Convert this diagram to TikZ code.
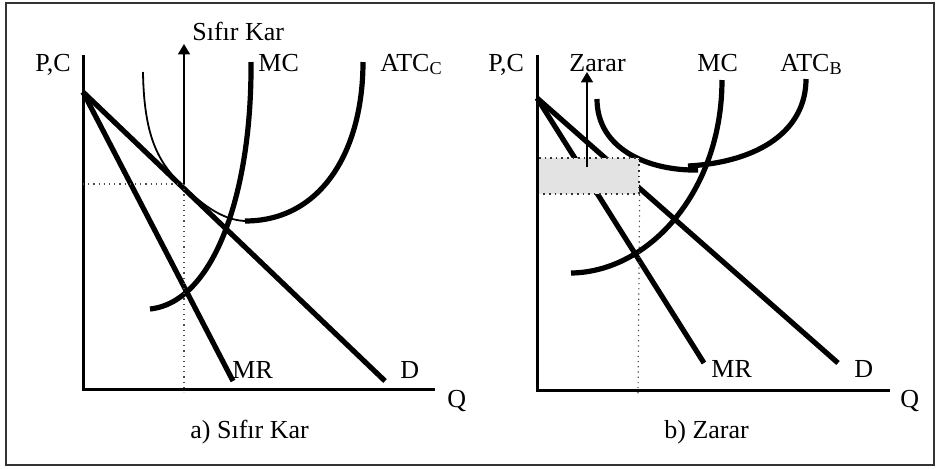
\documentclass[tikz,border=0pt]{standalone}
\usepackage{fontspec}
\setmainfont{Liberation Serif}
\usetikzlibrary{arrows.meta, positioning, calc}

\begin{document}
\begin{tikzpicture}[
    x=0.5pt, y=-0.5pt,
    >=Triangle,
    font=\fontsize{13}{15}\selectfont,
    % Define styles for the different line types
    axisline/.style={line width=1.5pt},
    curveline/.style={line width=2.6pt},
    thinline/.style={line width=0.9pt},
    guideline/.style={dotted, line width=0.6pt, black!70},
    lbl/.style={anchor=base west, inner sep=0pt},
    lossbox/.style={rectangle, fill=black!11, draw=black!80, dotted, line width=0.8pt, inner sep=0pt, minimum width=50.5pt, minimum height=18pt},
]

% -------------------------
% Frame
% -------------------------
\useasboundingbox (0,0) rectangle (938,468);
\draw[line width=1.2pt, black!80] (6,3) rectangle (934,465);

% -------------------------
% Panel a: Sifir Kar
% -------------------------
\coordinate (Ya) at (83,55);
\coordinate (Xa) at (435,389);
\coordinate (Da0) at (83,92);
\coordinate (Da1) at (385,381);
\coordinate (MRa1) at (233,381);
\coordinate (Qa) at (184,392);
\coordinate (Pa) at (184,184);
\coordinate (Ta) at (184,44);

\draw[axisline] (Ya) |- (Xa);

% ATC (thin left part, thick right part)
\draw[thinline] (143,72) .. controls (144,140) and (160,165) .. (185,188)
    .. controls (205,207) and (225,221) .. (247,221);
\draw[curveline] (245,221) .. controls (322,221) and (363,150) .. (363,62);

% MC
\draw[curveline] (150,309) .. controls (215,302) and (252,190) .. (251,62);

% demand and marginal revenue
\draw[curveline] (Da0) -- (Da1);
\draw[curveline] (Da0) -- (MRa1);

% guides and arrow
\draw[guideline] (Da0 |- Pa) -- (Pa);
\draw[guideline] (Pa) -- (Qa);
\draw[->, line width=0.9pt] (Pa) -- (Ta);

\node (pca) [lbl] at (35,71) {P,C};
\node (kara) [lbl] at (192,40) {Sıfır Kar};
\node (mca) [lbl] at (258,71) {MC};
\node (atca) [lbl] at (380,71) {ATC\textsubscript{C}};
\node (mra) [lbl] at (232,378) {MR};
\node (da) [lbl] at (400,378) {D};
\node (qa) [lbl] at (447,407) {Q};
\node (capa) [lbl] at (190,438) {a) Sıfır Kar};

% -------------------------
% Panel b: Zarar
% -------------------------
\coordinate (Yb) at (537,55);
\coordinate (Xb) at (890,390);
\coordinate (Db0) at (537,98);
\coordinate (Db1) at (838,363);
\coordinate (MRb1) at (704,363);
\coordinate (Qb) at (638,397);
\coordinate (Lb) at (587,167);
\coordinate (Tb) at (587,72);

% ATC (two pieces)
\draw[curveline] (597,99) .. controls (597,150) and (650,171) .. (698,170);
\draw[curveline] (688,166) .. controls (760,162) and (806,130) .. (806,79);

% MC
\draw[curveline] (571,273) .. controls (650,272) and (722,190) .. (722,80);

% demand and marginal revenue
\draw[curveline] (Db0) -- (Db1);
\draw[curveline] (Db0) -- (MRb1);

% loss area (on top of the lines)
\node (loss) [lossbox, anchor=north west] at (537,157) {};
\draw[guideline] (loss.south east) -- (Qb);

\draw[axisline] (Yb) |- (Xb);
\draw[->, line width=0.9pt] (Lb) -- (Tb);

\node (pcb) [lbl] at (488,71) {P,C};
\node (zarb) [lbl] at (569,71) {Zarar};
\node (mcb) [lbl] at (697,71) {MC};
\node (atcb) [lbl] at (780,71) {ATC\textsubscript{B}};
\node (mrb) [lbl] at (711,377) {MR};
\node (db) [lbl] at (854,377) {D};
\node (qb) [lbl] at (900,407) {Q};
\node (capb) [lbl] at (664,438) {b) Zarar};

\end{tikzpicture}
\end{document}
